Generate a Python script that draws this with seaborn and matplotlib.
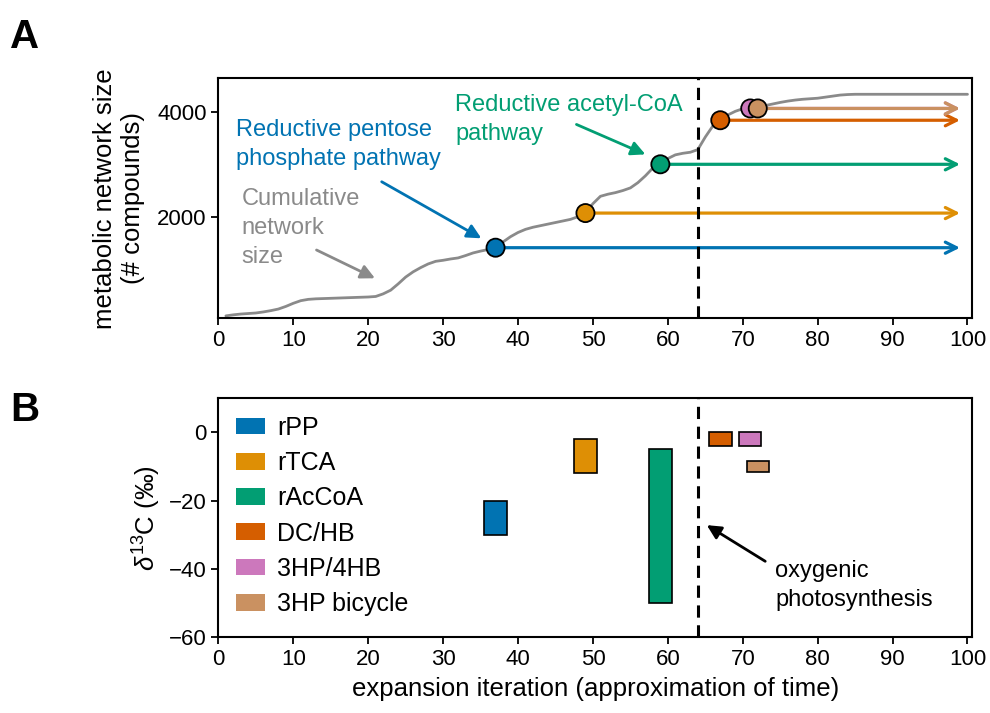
import numpy as np
import pandas as pd
import matplotlib
matplotlib.use('Agg')
import matplotlib.pyplot as plt
import seaborn as sns
from matplotlib.patches import Patch

# ---------------- data ----------------
iterations = list(range(1, 101))
network_size = [110, 130, 145, 155, 165, 185, 210, 240, 290, 350,
                400, 425, 435, 440, 445, 450, 455, 460, 465, 470,
                480, 530, 600, 720, 850, 950, 1030, 1100, 1150, 1170,
                1195, 1215, 1260, 1310, 1345, 1375, 1410, 1520, 1620, 1700,
                1760, 1800, 1830, 1860, 1890, 1920, 1950, 2000, 2070, 2250,
                2390, 2430, 2460, 2500, 2550, 2650, 2780, 2930, 3000, 3110,
                3180, 3210, 3230, 3280, 3520, 3730, 3840, 3940, 4010, 4060,
                4080, 4090, 4120, 4150, 4180, 4205, 4225, 4240, 4250, 4260,
                4280, 4300, 4320, 4330, 4335, 4335, 4335, 4335, 4335, 4335,
                4335, 4335, 4335, 4335, 4335, 4335, 4335, 4335, 4335, 4335]

pathways = ['rPP', 'rTCA', 'rAcCoA', 'DC/HB', '3HP/4HB', '3HP bicycle']
colors = ['#0173B2', '#DE8F05', '#029E73', '#D55E00', '#CC78BC', '#CA9161']
emergence_iter = [37, 49, 59, 67, 71, 72]
emergence_size = [1410, 2070, 3000, 3840, 4065, 4065]
d13c_low = [-30, -12, -50, -4, -4, -11.5]
d13c_high = [-20, -2, -5, 0, 0, -8.5]
oxygenic_iter = 64
arrow_end_iter = 99

xticks = list(range(0, 101, 10))
yticks_A = [2000, 4000]
yticks_B = [0, -20, -40, -60]

# ---------------- style ----------------
sns.set_style('ticks')
plt.rcParams['font.family'] = ['Liberation Sans', 'DejaVu Sans']
plt.rcParams['mathtext.fontset'] = 'custom'
plt.rcParams['mathtext.rm'] = 'Liberation Sans'
plt.rcParams['mathtext.it'] = 'Liberation Sans:italic'
plt.rcParams['mathtext.bf'] = 'Liberation Sans:bold'
plt.rcParams['text.color'] = 'black'
plt.rcParams['axes.labelcolor'] = 'black'
plt.rcParams['xtick.color'] = 'black'
plt.rcParams['ytick.color'] = 'black'

AFS = 17      # annotation text
LFS = 18.5    # axis labels
TFS = 16      # tick labels
GFS = 18      # legend
LS = 1.42     # line spacing
gray = '#8a8a8a'

fig = plt.figure(figsize=(9.9, 7.13), dpi=100)
axA = fig.add_axes([0.2206, 0.5533, 0.7612, 0.3369])
axB = fig.add_axes([0.2206, 0.1066, 0.7612, 0.3348])

# ---------------- panel A ----------------
df = pd.DataFrame({'iteration': iterations, 'size': network_size})
sns.lineplot(data=df, x='iteration', y='size', color=gray, lw=2, ax=axA, zorder=2)

for xi, yi, c in zip(emergence_iter, emergence_size, colors):
    axA.annotate('', xy=(arrow_end_iter, yi), xytext=(xi, yi),
                 arrowprops=dict(arrowstyle='->', color=c, lw=2.3,
                                 mutation_scale=20, shrinkA=0, shrinkB=0),
                 zorder=3)

sns.scatterplot(x=emergence_iter, y=emergence_size, hue=pathways,
                hue_order=pathways, palette=colors, s=170,
                edgecolor='black', linewidth=1.3, ax=axA, legend=False, zorder=5)

axA.axvline(oxygenic_iter, color='black', lw=2.2, ls=(0, (4, 2.5)), zorder=4)

axA.annotate('', xy=(35.1, 1589), xytext=(21.8, 2667),
             arrowprops=dict(arrowstyle='-|>', color=colors[0], lw=2,
                             mutation_scale=21, shrinkA=0, shrinkB=0))
axA.text(2.4, 2990, 'Reductive pentose\nphosphate pathway', color=colors[0],
         fontsize=AFS, va='baseline', ha='left', linespacing=LS)
axA.annotate('', xy=(57.0, 3189), xytext=(47.8, 3760),
             arrowprops=dict(arrowstyle='-|>', color=colors[2], lw=2,
                             mutation_scale=21, shrinkA=0, shrinkB=0))
axA.text(31.6, 3461, 'Reductive acetyl-CoA\npathway', color=colors[2],
         fontsize=AFS, va='baseline', ha='left', linespacing=LS)
axA.annotate('', xy=(20.9, 827), xytext=(13.1, 1366),
             arrowprops=dict(arrowstyle='-|>', color=gray, lw=2,
                             mutation_scale=21, shrinkA=0, shrinkB=0))
axA.text(3.1, 1118, 'Cumulative\nnetwork\nsize', color=gray,
         fontsize=AFS, va='baseline', ha='left', linespacing=LS)

axA.set_xlim(0, 100.6)
axA.set_ylim(60, 4640)
axA.set_xticks(xticks)
axA.set_yticks(yticks_A)
axA.set_xlabel('')
axA.set_ylabel('metabolic network size\n(# compounds)', fontsize=LFS, labelpad=9)

# ---------------- panel B ----------------
heights = np.subtract(d13c_high, d13c_low)
axB.bar(emergence_iter, heights, bottom=d13c_low, width=3, color=colors,
        edgecolor='black', linewidth=1.2, zorder=3)
axB.axvline(oxygenic_iter, color='black', lw=2.2, ls=(0, (4, 2.5)), zorder=4)
axB.annotate('', xy=(65.2, -27.2), xytext=(73.0, -37.8),
             arrowprops=dict(arrowstyle='-|>', color='black', lw=2,
                             mutation_scale=21, shrinkA=0, shrinkB=0))
axB.text(74.3, -50.9, 'oxygenic\nphotosynthesis', color='black',
         fontsize=AFS, va='baseline', ha='left', linespacing=LS)

handles = [Patch(facecolor=c, edgecolor='none', label=p) for p, c in zip(pathways, colors)]
axB.legend(handles=handles, loc='upper left', frameon=False, fontsize=GFS,
           handlelength=1.15, handleheight=0.65, handletextpad=0.5,
           labelspacing=0.45, borderaxespad=0.3, bbox_to_anchor=(0.0, 1.0))

axB.set_xlim(0, 100.6)
axB.set_ylim(-60, 10)
axB.set_xticks(xticks)
axB.set_yticks(yticks_B)
axB.set_xlabel('expansion iteration (approximation of time)', fontsize=LFS, labelpad=5)
axB.set_ylabel(r'$\delta^{13}$C (‰)', fontsize=LFS, labelpad=4)

for ax in (axA, axB):
    for s in ax.spines.values():
        s.set_color('black')
        s.set_linewidth(1.5)
    ax.tick_params(axis='both', labelsize=TFS, length=5, width=1.3,
                   color='black', labelcolor='black', direction='out')

fig.text(0.010, 0.975, 'A', fontsize=29, fontweight='heavy', va='top', ha='left')
fig.text(0.010, 0.452, 'B', fontsize=29, fontweight='heavy', va='top', ha='left')

fig.savefig('out.png', dpi=100)
